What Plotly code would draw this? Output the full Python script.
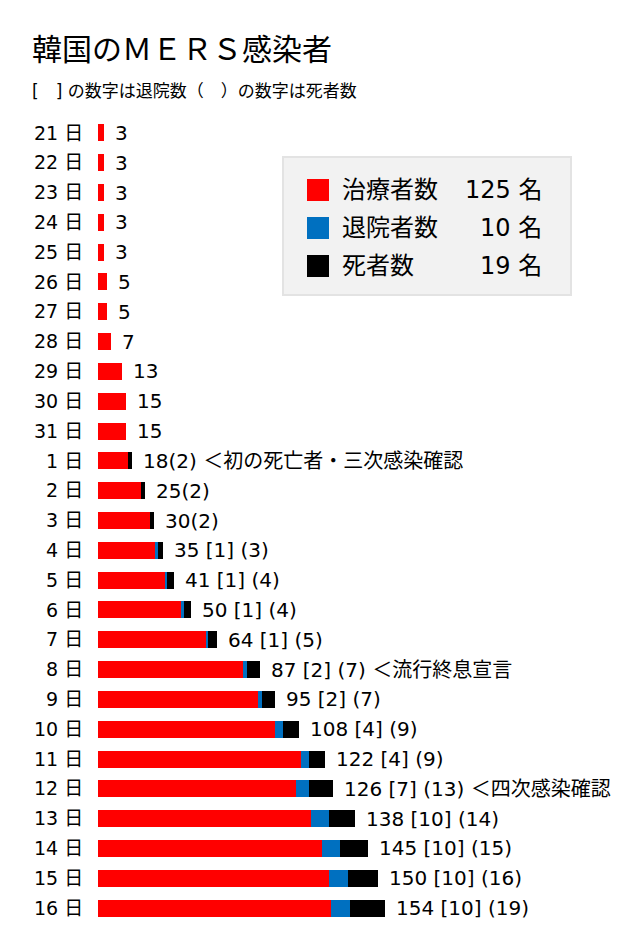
import plotly.graph_objects as go

# 日付（5月21日〜6月16日）
days = [21, 22, 23, 24, 25, 26, 27, 28, 29, 30, 31,
        1, 2, 3, 4, 5, 6, 7, 8, 9, 10, 11, 12, 13, 14, 15, 16]
# 感染者数（累計）
totals = [3, 3, 3, 3, 3, 5, 5, 7, 13, 15, 15,
          18, 25, 30, 35, 41, 50, 64, 87, 95, 108, 122, 126, 138, 145, 150, 154]
# 退院者数
discharged = [0, 0, 0, 0, 0, 0, 0, 0, 0, 0, 0,
              0, 0, 0, 1, 1, 1, 1, 2, 2, 4, 4, 7, 10, 10, 10, 10]
# 死者数
deaths = [0, 0, 0, 0, 0, 0, 0, 0, 0, 0, 0,
          2, 2, 2, 3, 4, 4, 5, 7, 7, 9, 9, 13, 14, 15, 16, 19]
# 注記
notes = {1: ' ＜初の死亡者・三次感染確認', 8: ' ＜流行終息宣言', 12: ' ＜四次感染確認'}

treated = [t - d - k for t, d, k in zip(totals, discharged, deaths)]
cats = [f'{d} 日' for d in days]

RED = '#ff0000'
BLUE = '#0070c0'
BLACK = '#000000'
FONT = 'DejaVu Sans, Noto Sans CJK JP, sans-serif'

# ページの余白(8px)分を差し引く
OFF = 8
W, H = 640 - OFF, 938 - OFF
L, R, T, B = 98 - OFF, 20, 118 - OFF, 15
PW, PH = W - L - R, H - T - B


def px(x):
    return (x - OFF - L) / PW


def py(y):
    return (H - B - (y - OFF)) / PH


fig = go.Figure()
for name, vals, color in [('治療者数', treated, RED), ('退院者数', discharged, BLUE), ('死者数', deaths, BLACK)]:
    fig.add_trace(go.Bar(
        y=cats, x=vals, orientation='h', name=name,
        marker=dict(color=color, line=dict(width=0)),
        width=0.57, showlegend=False, hoverinfo='x+name'
    ))

annotations = []
# 棒の右側の数値ラベル
for c, day, t, d, k in zip(cats, days, totals, discharged, deaths):
    if d == 0 and k == 0:
        txt = str(t)
    elif d == 0:
        txt = f'{t}({k})'
    else:
        txt = f'{t} [{d}] ({k})'
    if day in notes and t > 15:
        txt += notes[day]
    annotations.append(dict(
        x=t, y=c, xref='x', yref='y', text=txt, showarrow=False,
        xanchor='left', yanchor='middle', xshift=9,
        font=dict(size=20, color='#000', family=FONT)
    ))

# タイトル
annotations.append(dict(
    x=px(30), y=py(47), xref='paper', yref='paper', text='韓国のＭＥＲＳ感染者',
    showarrow=False, xanchor='left', yanchor='middle',
    font=dict(size=30, color='#000', family='Noto Sans CJK JP')
))
annotations.append(dict(
    x=px(30), y=py(91), xref='paper', yref='paper',
    text='[　] の数字は退院数（　）の数字は死者数',
    showarrow=False, xanchor='left', yanchor='middle',
    font=dict(size=17, color='#000', family=FONT)
))

# 凡例ボックス
shapes = [dict(
    type='rect', xref='paper', yref='paper',
    x0=px(283), x1=px(571), y0=py(157), y1=py(295),
    fillcolor='#f2f2f2', line=dict(color='#e3e3e3', width=2)
)]
legend_rows = [('治療者数', treated[-1], RED, 190),
               ('退院者数', discharged[-1], BLUE, 228),
               ('死者数', deaths[-1], BLACK, 266)]
for name, val, color, yc in legend_rows:
    shapes.append(dict(
        type='rect', xref='paper', yref='paper',
        x0=px(307), x1=px(329), y0=py(yc - 11), y1=py(yc + 11),
        fillcolor=color, line=dict(width=0)
    ))
    annotations.append(dict(
        x=px(340), y=py(yc), xref='paper', yref='paper', text=name,
        showarrow=False, xanchor='left', yanchor='middle',
        font=dict(size=24, color='#000', family=FONT)
    ))
    annotations.append(dict(
        x=px(544), y=py(yc), xref='paper', yref='paper', text=f'{val} 名',
        showarrow=False, xanchor='right', yanchor='middle',
        font=dict(size=24, color='#000', family=FONT)
    ))

fig.update_layout(
    barmode='stack',
    width=W, height=H,
    margin=dict(l=L, r=R, t=T, b=B),
    plot_bgcolor='white', paper_bgcolor='white',
    font=dict(family=FONT, size=19, color='#000'),
    annotations=annotations,
    shapes=shapes,
    showlegend=False,
    xaxis=dict(range=[0, PW / 1.864], visible=False, fixedrange=True),
    yaxis=dict(
        categoryorder='array', categoryarray=cats, autorange='reversed',
        showgrid=False, zeroline=False, showline=False,
        ticks='outside', ticklen=10, tickcolor='rgba(0,0,0,0)',
        tickfont=dict(size=19, color='#000', family=FONT)
    )
)

fig.write_html('out.html')
